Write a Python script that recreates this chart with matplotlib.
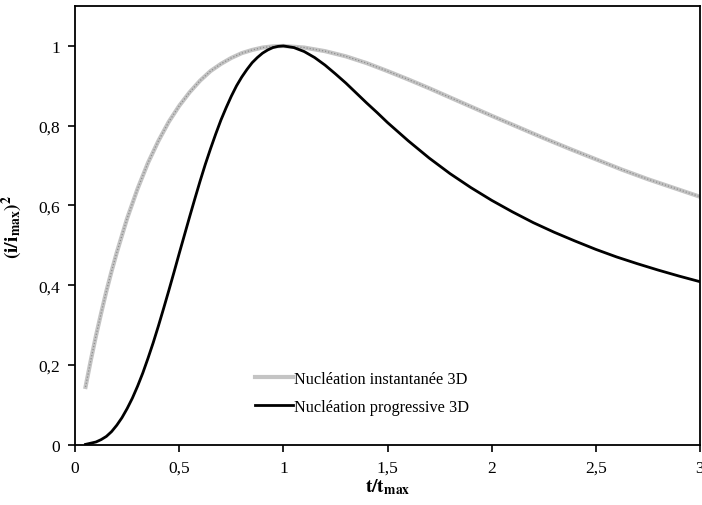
import matplotlib
matplotlib.use('Agg')
import matplotlib.pyplot as plt

# values
t_inst = [0.05, 0.075, 0.1, 0.125, 0.15, 0.175, 0.2, 0.25, 0.3, 0.35, 0.4, 0.45, 0.5, 0.55,
          0.6, 0.65, 0.7, 0.75, 0.8, 0.85, 0.9, 0.95, 1.0, 1.1, 1.2, 1.3, 1.4, 1.5, 1.6, 1.7,
          1.8, 1.9, 2.0, 2.125, 2.25, 2.375, 2.5, 2.625, 2.75, 2.875, 3.0]
i_inst = [0.145, 0.211, 0.273, 0.330, 0.385, 0.435, 0.482, 0.568, 0.642, 0.707, 0.762, 0.810,
          0.850, 0.884, 0.913, 0.937, 0.955, 0.970, 0.982, 0.990, 0.996, 0.999, 1.000, 0.996,
          0.987, 0.974, 0.957, 0.937, 0.916, 0.894, 0.871, 0.848, 0.825, 0.797, 0.769, 0.742,
          0.716, 0.690, 0.666, 0.644, 0.622]

t_prog = [0.05, 0.1, 0.125, 0.15, 0.175, 0.2, 0.225, 0.25, 0.275, 0.3, 0.325, 0.35, 0.375,
          0.4, 0.425, 0.45, 0.475, 0.5, 0.525, 0.55, 0.575, 0.6, 0.625, 0.65, 0.675, 0.7,
          0.725, 0.75, 0.775, 0.8, 0.825, 0.85, 0.875, 0.9, 0.925, 0.95, 0.975, 1.0, 1.05,
          1.1, 1.15, 1.2, 1.25, 1.3, 1.35, 1.4, 1.45, 1.5, 1.6, 1.7, 1.8, 1.9, 2.0, 2.1, 2.2,
          2.3, 2.4, 2.5, 2.6, 2.7, 2.8, 2.9, 3.0]
i_prog = [0.001, 0.007, 0.013, 0.021, 0.033, 0.049, 0.068, 0.091, 0.117, 0.147, 0.180, 0.217,
          0.256, 0.298, 0.342, 0.387, 0.433, 0.480, 0.526, 0.572, 0.617, 0.661, 0.703, 0.742,
          0.779, 0.814, 0.845, 0.874, 0.900, 0.922, 0.941, 0.958, 0.971, 0.982, 0.990, 0.996,
          0.999, 1.000, 0.996, 0.986, 0.971, 0.952, 0.930, 0.907, 0.882, 0.857, 0.833, 0.808,
          0.762, 0.719, 0.680, 0.645, 0.613, 0.584, 0.557, 0.533, 0.511, 0.490, 0.471, 0.454,
          0.438, 0.423, 0.409]

xticks = [0, 0.5, 1, 1.5, 2, 2.5, 3]
xtick_labels = ['0', '0,5', '1', '1,5', '2', '2,5', '3']
yticks = [0, 0.2, 0.4, 0.6, 0.8, 1]
ytick_labels = ['0', '0,2', '0,4', '0,6', '0,8', '1']

plt.rcParams['font.family'] = 'Liberation Serif'
plt.rcParams['mathtext.fontset'] = 'stix'
plt.rcParams['font.size'] = 12.5

fig = plt.figure(figsize=(7.02, 5.06), dpi=100)
ax = fig.add_axes([0.107, 0.119, 0.890, 0.867])

ax.plot(t_inst, i_inst, color='#c4c4c4', lw=3.0, label='Nucléation instantanée 3D')
ax.plot(t_inst, i_inst, color='#8f8f8f', lw=0.9, ls=(0, (1, 1.5)))
ax.plot(t_prog, i_prog, color='black', lw=2.0, label='Nucléation progressive 3D')

ax.set_xlim(0, 3)
ax.set_ylim(0, 1.1)
ax.set_xticks(xticks)
ax.set_xticklabels(xtick_labels)
ax.set_yticks(yticks)
ax.set_yticklabels(ytick_labels)
ax.tick_params(direction='out', length=5, width=1.2, pad=6)
for s in ax.spines.values():
    s.set_linewidth(1.3)

ax.set_xlabel(r'$\mathbf{t/t_{max}}$', fontsize=14, labelpad=0)
ax.set_ylabel(r'$\mathbf{(i/i_{max})^2}$', fontsize=14, labelpad=10)

ax.legend(loc='lower left', bbox_to_anchor=(0.265, 0.035), frameon=False,
          handlelength=2.3, handletextpad=0.1, labelspacing=0.75, fontsize=11.7)

fig.savefig('out.png', dpi=100)
